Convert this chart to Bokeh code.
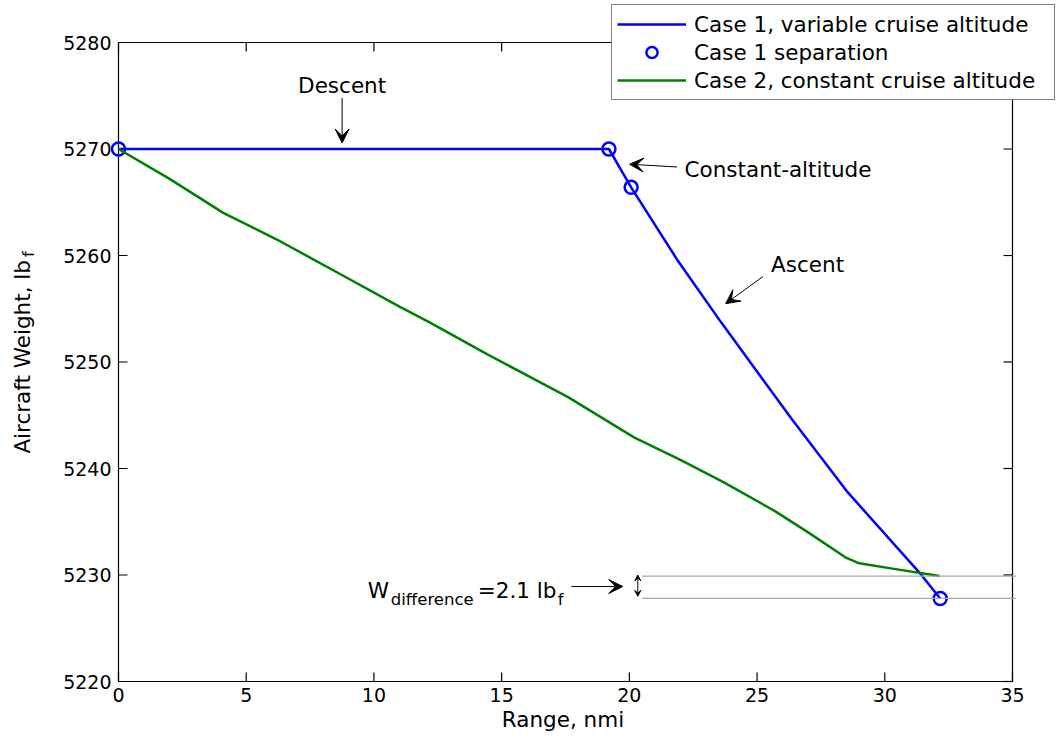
import math
from bokeh.plotting import figure
from bokeh.models import Range1d, Label, Arrow, VeeHead, Legend, LegendItem
from bokeh.core.properties import value
from bokeh.embed import file_html
from bokeh.resources import INLINE

# ---------------- data ----------------
range_case1 = [0.0, 19.2, 20.07, 21.9, 23.6, 26.4, 28.5, 31.4, 32.17]
weight_case1 = [5270.0, 5270.0, 5266.4, 5259.5, 5253.7, 5244.5, 5237.9, 5230.1, 5227.8]

sep_range = [0.0, 19.2, 20.07, 32.17]
sep_weight = [5270.0, 5270.0, 5266.4, 5227.8]

range_case2 = [0.0, 2.0, 4.1, 6.2, 8.8, 11.0, 12.2, 14.3, 17.6, 20.2, 22.0,
               23.7, 25.7, 27.0, 28.5, 29.0, 30.3, 32.14]
weight_case2 = [5270.0, 5267.2, 5264.0, 5261.5, 5258.1, 5255.2, 5253.7, 5250.9,
                5246.7, 5242.9, 5240.8, 5238.7, 5236.0, 5234.0, 5231.6, 5231.1,
                5230.6, 5229.9]

x_ticks = [0, 5, 10, 15, 20, 25, 30, 35]
y_ticks = [5220, 5230, 5240, 5250, 5260, 5270, 5280]

legend_labels = ["Case 1, variable cruise altitude", "Case 1 separation",
                 "Case 2, constant cruise altitude"]

# ---------------- layout / style ----------------
FONT = "DejaVu Sans"
TXT = "21.5px"
SUB = "16.5px"
TICK = "19px"
BLUE = "#0000ff"
GREEN = "#008000"

W, H = 1060, 740
AX_L, AX_R, AX_T, AX_B = 118, 1012, 42, 681   # pixel box of the axes
TL = 9                                          # tick length, px

x0, x1 = x_ticks[0], x_ticks[-1]
y0, y1 = y_ticks[0], y_ticks[-1]
sx = (AX_R - AX_L) / (x1 - x0)
sy = (AX_B - AX_T) / (y1 - y0)

p = figure(width=W, height=H,
           x_range=Range1d(x0 - AX_L / sx, x1 + (W - AX_R) / sx),
           y_range=Range1d(y0 - (H - AX_B) / sy, y1 + AX_T / sy),
           output_backend="svg", toolbar_location=None,
           x_axis_location=None, y_axis_location=None, min_border=0,
           background_fill_color="white", border_fill_color="white")
p.grid.visible = False
p.outline_line_color = None

# axes box
p.segment(x0=[x0, x0, x0, x1], y0=[y0, y1, y0, y0], x1=[x1, x1, x0, x1], y1=[y0, y1, y1, y1],
          line_color="black", line_width=1.2)
nx, ny = len(x_ticks), len(y_ticks)
# inward ticks on all four sides
p.segment(x0=x_ticks, y0=[y0] * nx, x1=x_ticks, y1=[y0 + TL / sy] * nx, line_color="black", line_width=1.2)
p.segment(x0=x_ticks, y0=[y1] * nx, x1=x_ticks, y1=[y1 - TL / sy] * nx, line_color="black", line_width=1.2)
p.segment(x0=[x0] * ny, y0=y_ticks, x1=[x0 + TL / sx] * ny, y1=y_ticks, line_color="black", line_width=1.2)
p.segment(x0=[x1] * ny, y0=y_ticks, x1=[x1 - TL / sx] * ny, y1=y_ticks, line_color="black", line_width=1.2)
# tick labels
p.text(x=x_ticks, y=[y0 - 6 / sy] * nx, text=[str(t) for t in x_ticks], text_align="center",
       text_baseline="top", text_font=value(FONT), text_font_size=TICK, text_color="black")
p.text(x=[x0 - 7 / sx] * ny, y=y_ticks, text=[str(t) for t in y_ticks], text_align="right",
       text_baseline="middle", text_font=value(FONT), text_font_size=TICK, text_color="black")

# ---------------- series ----------------
r1 = p.line(range_case1, weight_case1, line_color=BLUE, line_width=2.5)
r2 = p.scatter(sep_range, sep_weight, marker="circle", size=13, fill_color=None,
               line_color=BLUE, line_width=2.5)
r3 = p.line(range_case2, weight_case2, line_color=GREEN, line_width=2.5)


def lab(x, y, text, size=TXT, align="left", baseline="middle", angle=0.0, x_offset=0):
    p.add_layout(Label(x=x, y=y, text=text, text_font=FONT, text_font_size=size,
                       text_color="black", text_align=align, text_baseline=baseline,
                       angle=angle, x_offset=x_offset))


def arrow(xa, ya, xb, yb, size=14, both=False):
    head = VeeHead(size=size, fill_color="black", line_color="black")
    start = VeeHead(size=size, fill_color="black", line_color="black") if both else None
    p.add_layout(Arrow(start=start, end=head, x_start=xa, y_start=ya, x_end=xb, y_end=yb,
                       line_color="black", line_width=1))


# gray reference lines at the two end weights
for w in (weight_case2[-1], weight_case1[-1]):
    p.add_layout(Arrow(start=None, end=None, x_start=20.5, y_start=w, x_end=35.15, y_end=w,
                       line_color="#a8a8a8", line_width=1.3))

# annotations
lab(8.755, 5275.92, "Descent", align="center")
arrow(8.755, 5274.79, 8.755, 5270.57)

lab(22.16, 5268.10, "Constant-altitude")
arrow(21.87, 5268.31, 20.01, 5268.57)

lab(25.55, 5259.11, "Ascent")
arrow(25.23, 5258.02, 23.77, 5255.48)

lab(9.76, 5228.54, "W", baseline="alphabetic")
lab(9.76, 5227.67, "difference", size=SUB, baseline="alphabetic", x_offset=23)
lab(9.76, 5228.54, "=2.1 lb", baseline="alphabetic", x_offset=110)
lab(9.76, 5227.67, "f", size=SUB, baseline="alphabetic", x_offset=190)
arrow(17.73, 5228.92, 19.74, 5228.92)
arrow(20.33, 5230.0, 20.33, 5228.0, size=6, both=True)

# axis titles
lab(17.4, 5216.4, "Range, nmi", align="center")
lab(-3.75, 5241.4, "Aircraft Weight, lb", baseline="alphabetic", angle=math.pi / 2)
lab(-3.52, 5259.85, "f", size=SUB, baseline="alphabetic", angle=math.pi / 2)

# legend
legend = Legend(items=[LegendItem(label=legend_labels[0], renderers=[r1]),
                       LegendItem(label=legend_labels[1], renderers=[r2]),
                       LegendItem(label=legend_labels[2], renderers=[r3])],
                location=(611, H - 100), border_line_color="black", border_line_width=1.2,
                background_fill_color="white", background_fill_alpha=1.0,
                label_text_font=FONT, label_text_font_size=TXT, label_text_color="black",
                glyph_width=69, glyph_height=28, label_height=28, label_width=355,
                label_standoff=8, spacing=0, padding=5, margin=0)
p.add_layout(legend, "center")

open("out.html", "w").write(file_html(p, INLINE))
